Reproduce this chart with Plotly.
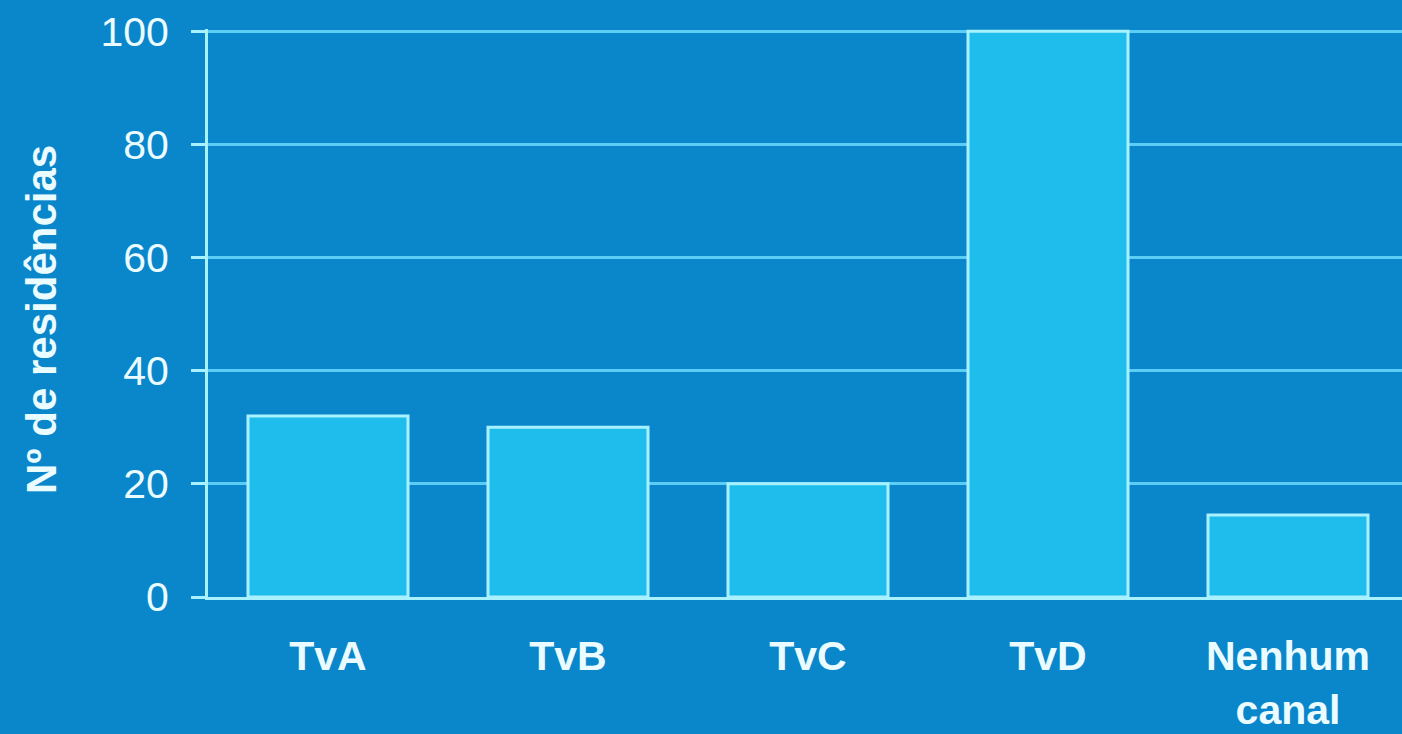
import plotly.graph_objects as go

categories = ["TvA", "TvB", "TvC", "TvD", "Nenhum<br>canal"]
values = [32, 30, 20, 100, 14.5]
y_ticks = [0, 20, 40, 60, 80, 100]
y_title = "Nº de residências"

BG = "#0a86cb"
BAR = "#1fbdeb"
EDGE = "#a8f2ff"
GRID = "#5ccdf4"
TEXT = "#eafcff"
FONT = "Liberation Sans, Arial, sans-serif"

fig = go.Figure(
    go.Bar(
        x=categories,
        y=values,
        marker=dict(color=BAR, line=dict(color=EDGE, width=3)),
        width=2 / 3,
    )
)

fig.update_layout(
    width=1402,
    height=734,
    margin=dict(l=208, r=0, t=29, b=137),
    paper_bgcolor=BG,
    plot_bgcolor=BG,
    showlegend=False,
    font=dict(family=FONT, color=TEXT),
)

fig.update_xaxes(
    range=[-0.5, 4.475],
    automargin=False,
    showgrid=False,
    showline=True,
    linecolor=EDGE,
    linewidth=3,
    ticks="",
    tickfont=dict(size=41, family=FONT, color=TEXT, weight="bold"),
    ticklabelstandoff=21,
)

fig.update_yaxes(
    range=[0, 100.4],
    automargin=False,
    tickvals=y_ticks,
    showgrid=True,
    gridcolor=GRID,
    gridwidth=2.5,
    showline=True,
    linecolor=EDGE,
    linewidth=3,
    ticks="outside",
    ticklen=14,
    tickwidth=3,
    tickcolor=EDGE,
    tickfont=dict(size=41, family=FONT, color=TEXT),
    ticklabelstandoff=14,
    zeroline=False,
)

fig.add_annotation(
    text=y_title,
    xref="paper",
    yref="paper",
    x=(42 - 208) / 1194,
    y=(597 - 320) / 568,
    xanchor="center",
    yanchor="middle",
    textangle=-90,
    showarrow=False,
    font=dict(size=42, family=FONT, color=TEXT, weight="bold"),
)

fig.write_html("out.html")
